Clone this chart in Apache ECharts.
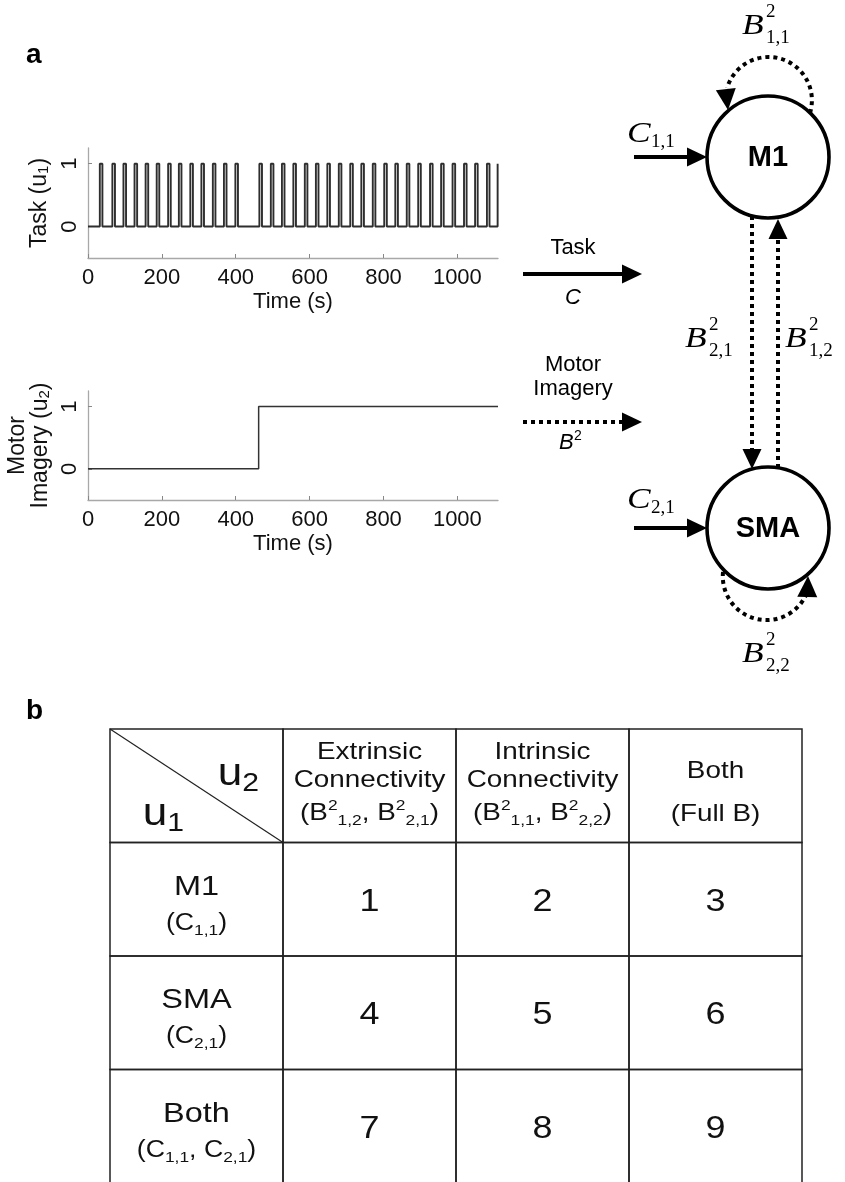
<!DOCTYPE html>
<html>
<head>
<meta charset="utf-8">
<title>DCM model space</title>
<script src="https://cdn.jsdelivr.net/npm/echarts@6.0.0/dist/echarts.min.js"></script>
<style>
  html, body { margin: 0; padding: 0; background: #fff; }
  #main { width: 845px; height: 1182px; }
</style>
</head>
<body>
<div id="main"></div>
<script>
// onset times (s) of the task blocks
const taskOnsets = [32, 66, 96, 126, 156, 186, 217, 246, 277, 307, 338, 368, 399,
    464, 495, 525, 556, 587, 617, 648, 679, 710, 740, 771, 802, 832, 863, 894,
    926, 956, 987, 1018, 1048, 1080, 1109];
const taskDuration = 7;
const scanEnd = 1110;
const imageryStart = 462;
const timeTicks = [0, 200, 400, 600, 800, 1000];
const levelTicks = [0, 1];

// model space table (panel b)
const tableColKeys = ['inputs', 'extrinsic', 'intrinsic', 'full'];
const tableRowKeys = ['head', 'm1', 'sma', 'both'];
const colHeaders = [
    ['Extrinsic', 'Connectivity', '(B{sup|2}{sub|1,2}, B{sup|2}{sub|2,1})'],
    ['Intrinsic', 'Connectivity', '(B{sup|2}{sub|1,1}, B{sup|2}{sub|2,2})'],
    ['Both', '(Full B)'],
];
const rowHeaders = [
    ['M1', '(C{sub|1,1})'],
    ['SMA', '(C{sub|2,1})'],
    ['Both', '(C{sub|1,1}, C{sub|2,1})'],
];
const modelIds = [
    [1, 2, 3],
    [4, 5, 6],
    [7, 8, 9],
];

const SANS = '"Liberation Sans", Arial, sans-serif';
const SERIF = '"Liberation Serif", "DejaVu Serif", serif';
const INK = '#111';

function pulseTrain(onsets, dur, end) {
    const pts = [[0, 0]];
    onsets.forEach((t) => {
        const off = Math.min(t + dur, end);
        pts.push([t, 0], [t, 1], [off, 1]);
        if (off < end) pts.push([off, 0]);
    });
    if (pts[pts.length - 1][0] < end) pts.push([end, 0]);
    return pts;
}

const taskSignal = pulseTrain(taskOnsets, taskDuration, scanEnd);
const imagerySignal = [[0, 0], [imageryStart, 0], [imageryStart, 1], [scanEnd, 1]];

const tableCells = [];
tableRowKeys.forEach((rk, r) => tableColKeys.forEach((ck, c) => tableCells.push([c, r])));

const subRich = {
    sub: {fontSize: 15, lineHeight: 15, verticalAlign: 'bottom', fontFamily: SANS, color: INK},
};

function timeAxis(grid) {
    return {
        gridIndex: grid, type: 'value', min: 0, max: scanEnd,
        name: 'Time (s)', nameLocation: 'middle', nameGap: 33,
        nameTextStyle: {fontSize: 22, fontFamily: SANS, color: INK},
        axisLine: {onZero: false, lineStyle: {color: '#a8a8a8', width: 1.3}},
        axisTick: {inside: true, length: 4, customValues: timeTicks, lineStyle: {color: '#888'}},
        axisLabel: {customValues: timeTicks, fontSize: 22, fontFamily: SANS, color: INK, margin: 9,
            formatter: (v) => String(v)},
        splitLine: {show: false},
    };
}

function levelAxis(grid, name, gap) {
    return {
        gridIndex: grid, type: 'value', min: -0.5, max: 1.25,
        name: name, nameLocation: 'middle', nameGap: gap, nameRotate: 90,
        nameTextStyle: {fontSize: 23, fontFamily: SANS, color: INK, lineHeight: 23, rich: subRich},
        axisLine: {onZero: false, lineStyle: {color: '#a8a8a8', width: 1.3}},
        axisTick: {inside: true, length: 4, customValues: levelTicks, lineStyle: {color: '#888'}},
        axisLabel: {customValues: levelTicks, rotate: 90, fontSize: 22, fontFamily: SANS, color: INK, margin: 7},
        splitLine: {show: false},
    };
}

// ---- table cells
const tableRich = {
    sup: {fontSize: 15, lineHeight: 15, verticalAlign: 'top', fontFamily: SANS, fill: INK},
    sub: {fontSize: 15, lineHeight: 15, verticalAlign: 'bottom', fontFamily: SANS, fill: INK},
    usub: {fontSize: 26, lineHeight: 26, verticalAlign: 'bottom', fontFamily: SANS, fill: INK},
};

function cellText(str, x, y, size, lh) {
    return {
        type: 'text', x: x, y: y, scaleX: 1.16,
        style: {
            text: str, x: 0, y: 0, align: 'center', verticalAlign: 'middle',
            font: size + 'px ' + SANS, fill: INK, lineHeight: lh || 30, rich: tableRich,
        },
    };
}

function renderCell(params, api) {
    const c = api.value(0);
    const r = api.value(1);
    const ctr = api.coord([c, r]);
    const sz = api.size([1, 1]);
    const x0 = ctr[0] - sz[0] / 2;
    const y0 = ctr[1] - sz[1] / 2;
    const kids = [{
        type: 'rect', shape: {x: x0, y: y0, width: sz[0], height: sz[1]},
        style: {fill: 'none', stroke: '#222', lineWidth: 1.5},
    }];
    if (r === 0 && c === 0) {
        kids.push({
            type: 'line', shape: {x1: x0, y1: y0, x2: x0 + sz[0], y2: y0 + sz[1]},
            style: {stroke: '#222', lineWidth: 1.2},
        });
        kids.push(cellText('u{usub|2}', ctr[0] + 42, ctr[1] - 11, 38, 44));
        kids.push(cellText('u{usub|1}', ctr[0] - 33, ctr[1] + 29, 38, 44));
    } else if (r === 0) {
        const lines = colHeaders[c - 1];
        const offs = lines.length === 3 ? [-33, -5, 28] : [-14, 29];
        lines.forEach((ln, i) => kids.push(cellText(ln, ctr[0], ctr[1] + offs[i], 24)));
    } else if (c === 0) {
        const lines = rowHeaders[r - 1];
        kids.push(cellText(lines[0], ctr[0], ctr[1] - 12, 28));
        kids.push(cellText(lines[1], ctr[0], ctr[1] + 24, 23));
    } else {
        kids.push(cellText(String(modelIds[r - 1][c - 1]), ctr[0], ctr[1] + 3, 31));
    }
    return {type: 'group', children: kids};
}

// ---- network diagram (panel a, right)
function txt(str, x, y, font, align) {
    return {
        type: 'text', x: x, y: y,
        style: {text: str, x: 0, y: 0, font: font, fill: '#000',
            align: align || 'center', textAlign: align || 'center',
            verticalAlign: 'middle', textVerticalAlign: 'middle'},
    };
}

function head(tip, ang, len, half) {
    const c = Math.cos(ang), s = Math.sin(ang);
    const bx = tip[0] - len * c, by = tip[1] - len * s;
    return {
        type: 'polygon',
        shape: {points: [tip, [bx - half * s, by + half * c], [bx + half * s, by - half * c]]},
        style: {fill: '#000'},
    };
}

function seg(p, q, dotted) {
    const style = {stroke: '#000', lineWidth: 4};
    if (dotted) style.lineDash = [4, 4];
    return {type: 'line', shape: {x1: p[0], y1: p[1], x2: q[0], y2: q[1]}, style: style};
}

function arrow(p, tip, dotted) {
    const ang = Math.atan2(tip[1] - p[1], tip[0] - p[0]);
    const base = [tip[0] - 20 * Math.cos(ang), tip[1] - 20 * Math.sin(ang)];
    return [seg(p, base, dotted), head(tip, ang, 20, 9.5)];
}

function loop(cx, cy, r, a0, a1) {
    return {
        type: 'arc', shape: {cx: cx, cy: cy, r: r, startAngle: a0, endAngle: a1, clockwise: false},
        style: {stroke: '#000', fill: 'none', lineWidth: 4, lineDash: [4, 4]},
    };
}

// B^{sup}_{sub} / C_{sub} in a TeX-like look; x is the left of the letter, y its middle
function mathLabel(x, y, base, sup, sub) {
    const out = [{
        type: 'text', x: x, y: y, scaleX: 1.18,
        style: {text: base, x: 0, y: 0, font: 'italic 30px ' + SERIF, fill: '#000',
            align: 'left', textAlign: 'left', verticalAlign: 'middle', textVerticalAlign: 'middle'},
    }];
    const dx = 24;
    if (sup) out.push(txt(sup, x + dx, y - 14, '19px ' + SERIF, 'left'));
    if (sub) out.push(txt(sub, x + dx, y + (sup ? 12 : 8), '19px ' + SERIF, 'left'));
    return out;
}

const M1 = [768, 157];
const SMA = [768, 528];
const R = 61;
const deg = Math.PI / 180;

const diagram = [].concat(
    [{type: 'circle', shape: {cx: M1[0], cy: M1[1], r: R}, style: {fill: '#fff', stroke: '#000', lineWidth: 3.6}},
     {type: 'circle', shape: {cx: SMA[0], cy: SMA[1], r: R}, style: {fill: '#fff', stroke: '#000', lineWidth: 3.6}},
     txt('M1', M1[0], M1[1] + 1, 'bold 29px ' + SANS),
     txt('SMA', SMA[0], SMA[1] + 1, 'bold 29px ' + SANS)],
    arrow([634, M1[1]], [707, M1[1]], false),
    arrow([634, SMA[1]], [707, SMA[1]], false),
    arrow([752, 216], [752, 469], true),
    arrow([778, 468], [778, 219], true),
    [loop(768.6, 100.3, 43.3, 17 * deg, -163.5 * deg),
     head([728, 110], 84 * deg, 21, 10),
     loop(766.5, 576.4, 43.7, 185.8 * deg, 22.3 * deg),
     head([808, 576], -88 * deg, 21, 10)],
    mathLabel(742, 26, 'B', '2', '1,1'),
    mathLabel(685, 339, 'B', '2', '2,1'),
    mathLabel(785, 339, 'B', '2', '1,2'),
    mathLabel(742, 654, 'B', '2', '2,2'),
    mathLabel(627, 134, 'C', null, '1,1'),
    mathLabel(627, 500, 'C', null, '2,1'),
    arrow([523, 274], [642, 274], false),
    arrow([523, 422], [642, 422], true),
    [txt('Task', 573, 248, '22px ' + SANS),
     txt('C', 573, 298, 'italic 22px ' + SANS),
     txt('Motor', 573, 365, '22px ' + SANS),
     txt('Imagery', 573, 389, '22px ' + SANS),
     txt('B', 559, 443, 'italic 22px ' + SANS, 'left'),
     txt('2', 574, 436, '14px ' + SANS, 'left'),
     txt('a', 26, 55, 'bold 28px ' + SANS, 'left'),
     txt('b', 26, 711, 'bold 28px ' + SANS, 'left')]
);

const chart = echarts.init(document.getElementById('main'), null, {renderer: 'canvas'});
chart.setOption({
    animation: false,
    backgroundColor: '#fff',
    grid: [
        {left: 88, top: 148, width: 410, height: 110, outerBoundsMode: 'none'},
        {left: 88, top: 391, width: 410, height: 109, outerBoundsMode: 'none'},
        {left: 110, top: 729, width: 692, height: 454, outerBoundsMode: 'none'},
    ],
    xAxis: [
        timeAxis(0),
        timeAxis(1),
        {gridIndex: 2, type: 'category', data: tableColKeys, show: false},
    ],
    yAxis: [
        levelAxis(0, 'Task (u{sub|1})', 37),
        levelAxis(1, 'Motor\nImagery (u{sub|2})', 36),
        {gridIndex: 2, type: 'category', data: tableRowKeys, inverse: true, show: false},
    ],
    series: [
        {
            name: 'task', type: 'line', xAxisIndex: 0, yAxisIndex: 0,
            data: taskSignal, showSymbol: false, silent: true,
            lineStyle: {color: '#2e2e2e', width: 1.9},
        },
        {
            name: 'imagery', type: 'line', xAxisIndex: 1, yAxisIndex: 1,
            data: imagerySignal, showSymbol: false, silent: true,
            lineStyle: {color: '#333', width: 1.5},
        },
        {
            name: 'models', type: 'custom', xAxisIndex: 2, yAxisIndex: 2,
            coordinateSystem: 'cartesian2d', clip: false, silent: true,
            data: tableCells, renderItem: renderCell,
        },
    ],
    graphic: {elements: diagram.map((el) => Object.assign({silent: true}, el))},
});
</script>
</body>
</html>
